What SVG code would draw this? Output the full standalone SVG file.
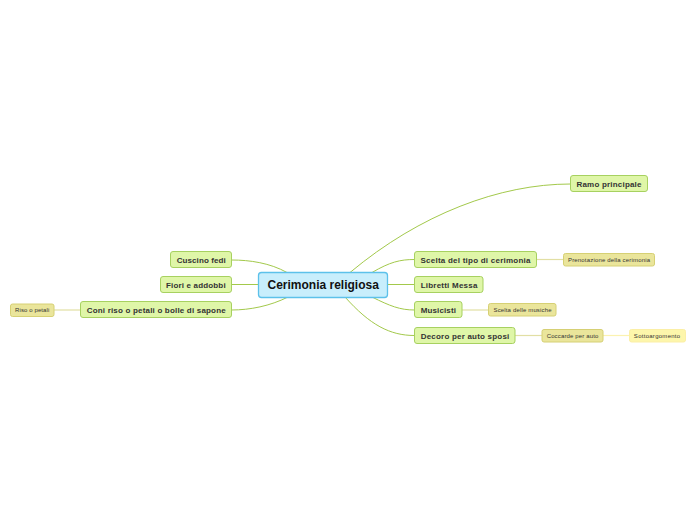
<svg xmlns="http://www.w3.org/2000/svg" width="696" height="520" viewBox="0 0 696 520">
<style>
.c{fill:none;stroke:#a3c94b;stroke-width:1}
.c2{fill:none;stroke:#e2dfa4;stroke-width:1.2}
.c3{fill:none;stroke:#fbf2b0;stroke-width:1.2}
.root{fill:#c8eefc;stroke:#5cc1ea;stroke-width:1.3}
.n1{fill:#dff6a8;stroke:#a7d160;stroke-width:1}
.n2{fill:#eae59b;stroke:#d6d074;stroke-width:1}
.n3{fill:#fdf6ab;stroke:#fbefa6;stroke-width:1}
text{font-family:"Liberation Sans",Arial,sans-serif;fill:#333;text-anchor:middle}
.t0{font-size:12px;font-weight:bold;fill:#111}
.t1{font-size:8px;font-weight:bold}
.t2{font-size:6px}
</style>
<rect width="696" height="520" fill="#fff"/>
<g id="connectors">
<path class="c" d="M350,272.5 C420,214 500,184 570.5,184"/>
<path class="c" d="M372,272.5 C390,262 400,259.5 414.5,259.5"/>
<path class="c" d="M388,284.5 L414.5,284.5"/>
<path class="c" d="M372,297 C390,306 400,310 414.5,310"/>
<path class="c" d="M345,297 C370,325 390,335.5 414.5,335.5"/>
<path class="c" d="M287,272.5 C270,263 250,260 231.5,260"/>
<path class="c" d="M231.5,284.5 L258.5,284.5"/>
<path class="c" d="M288,297 C270,306 250,310 231.5,310"/>
<path class="c2" d="M536.5,259.5 L563.5,259.5"/>
<path class="c2" d="M462,310 L488.5,310"/>
<path class="c2" d="M515,335.5 L542,335.5"/>
<path class="c3" d="M603,335.5 L629.5,335.5"/>
<path class="c2" d="M54,310 L80.5,310"/>
</g>
<g id="root"><rect class="root" x="258.5" y="272.5" width="129" height="25" rx="3"/><text class="t0" x="323.2" y="289.3">Cerimonia religiosa</text></g>
<g id="ramo"><rect class="n1" x="570.5" y="175.5" width="77" height="16" rx="2.5"/><text class="t1" x="609" y="187" textLength="65">Ramo principale</text></g>
<g id="scelta"><rect class="n1" x="414.5" y="251.5" width="122" height="16" rx="2.5"/><text class="t1" x="475.5" y="262.5" textLength="110">Scelta del tipo di cerimonia</text></g>
<g id="prenotazione"><rect class="n2" x="563.5" y="253.5" width="91" height="12.5" rx="2"/><text class="t2" x="609" y="261.5" textLength="82">Prenotazione della cerimonia</text></g>
<g id="libretti"><rect class="n1" x="414.5" y="276.5" width="68.5" height="16" rx="2.5"/><text class="t1" x="449" y="287.7" textLength="56.7">Libretti Messa</text></g>
<g id="musicisti"><rect class="n1" x="414.5" y="301.5" width="47.5" height="16" rx="2.5"/><text class="t1" x="438.3" y="312.7" textLength="35.3">Musicisti</text></g>
<g id="musiche"><rect class="n2" x="488.5" y="303.5" width="67.5" height="12.5" rx="2"/><text class="t2" x="522.5" y="312" textLength="58">Scelta delle musiche</text></g>
<g id="decoro"><rect class="n1" x="414.5" y="327.5" width="100.5" height="16" rx="2.5"/><text class="t1" x="465" y="338.5" textLength="88.7">Decoro per auto sposi</text></g>
<g id="coccarde"><rect class="n2" x="542" y="329.5" width="61" height="12.5" rx="2"/><text class="t2" x="572.5" y="337.8" textLength="51.7">Coccarde per auto</text></g>
<g id="sotto"><rect class="n3" x="629.5" y="329.5" width="56" height="12.5" rx="2"/><text class="t2" x="657" y="337.8" textLength="46.3">Sottoargomento</text></g>
<g id="cuscino"><rect class="n1" x="170.5" y="251.5" width="61" height="16" rx="2.5"/><text class="t1" x="201.2" y="263" textLength="49">Cuscino fedi</text></g>
<g id="fiori"><rect class="n1" x="160.5" y="276.5" width="71" height="16" rx="2.5"/><text class="t1" x="195.8" y="288" textLength="59.7">Fiori e addobbi</text></g>
<g id="coni"><rect class="n1" x="80.5" y="301.5" width="151" height="16" rx="2.5"/><text class="t1" x="156.2" y="313" textLength="139">Coni riso o petali o bolle di sapone</text></g>
<g id="riso"><rect class="n2" x="10.5" y="304" width="43.5" height="12.5" rx="2"/><text class="t2" x="32.2" y="312.3" textLength="34.3">Riso o petali</text></g>
</svg>
